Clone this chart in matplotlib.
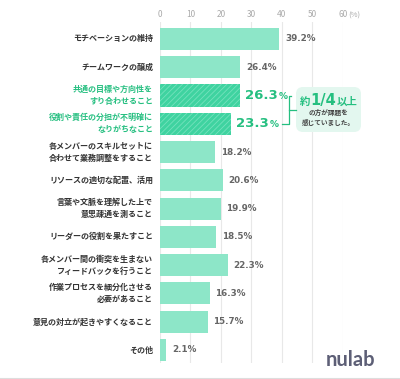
import matplotlib
matplotlib.use("Agg")
import matplotlib.pyplot as plt
from matplotlib.patches import FancyBboxPatch
from matplotlib.lines import Line2D
import matplotlib.transforms as mtransforms

plt.rcParams['font.family'] = ['Noto Sans CJK JP', 'DejaVu Sans']

categories = [
    "モチベーションの維持",
    "チームワークの醸成",
    "共通の目標や方向性を\nすり合わせること",
    "役割や責任の分担が不明確に\nなりがちなこと",
    "各メンバーのスキルセットに\n合わせて業務調整をすること",
    "リソースの適切な配置、活用",
    "言葉や文脈を理解した上で\n意思疎通を測ること",
    "リーダーの役割を果たすこと",
    "各メンバー間の衝突を生まない\nフィードバックを行うこと",
    "作業プロセスを細分化させる\n必要があること",
    "意見の対立が起きやすくなること",
    "その他",
]
values = [39.2, 26.4, 26.3, 23.3, 18.2, 20.6, 19.9, 18.5, 22.3, 16.3, 15.7, 2.1]
highlight = [False, False, True, True, False, False, False, False, False, False, False, False]
xticks = [0, 10, 20, 30, 40, 50, 60]

C_BAR = "#8de6c8"
C_HBAR = "#3fd3a0"
C_HATCH = "#74e2bd"
C_GREEN = "#25bf80"
C_TEXT = "#333333"
C_VAL = "#666666"

plt.rcParams['hatch.linewidth'] = 0.6

W, H = 400, 379
fig = plt.figure(figsize=(W / 100, H / 100), dpi=100)
ax = fig.add_axes([160 / W, (H - 363) / H, (342.7 - 160) / W, (363 - 22) / H])

n = len(categories)
ypos = list(range(n))
for i, (v, h) in enumerate(zip(values, highlight)):
    if h:
        ax.barh(i, v, height=0.78, color=C_HBAR, edgecolor=C_HATCH, linewidth=0, hatch='//////', zorder=2)
    else:
        ax.barh(i, v, height=0.78, color=C_BAR, linewidth=0, zorder=2)

ax.set_xlim(0, 60)
ax.set_ylim(n - 1 + 0.46, -0.6)
ax.set_xticks(xticks)
ax.set_xticklabels([str(t) for t in xticks])
ax.xaxis.tick_top()
ax.tick_params(axis='x', length=0, pad=2, labelsize=6, labelcolor="#aaaaaa")
ax.grid(axis='x', color="#e8e8e8", linewidth=0.8, zorder=0)
ax.set_axisbelow(True)
for s in ax.spines.values():
    s.set_visible(False)
ax.set_yticks(ypos)
ax.set_yticklabels([])
ax.tick_params(axis='y', length=0)

# (%) unit
ax.annotate("(%)", xy=(60, 1), xycoords=('data', 'axes fraction'), xytext=(4, 2),
            textcoords='offset points', ha='left', va='bottom', fontsize=5.5, color="#aaaaaa",
            annotation_clip=False)

# category labels
for i, (lab, h) in enumerate(zip(categories, highlight)):
    ax.annotate(lab, xy=(0, i), xytext=(-5, 0), textcoords='offset points',
                ha='right', va='center', fontsize=5.8, fontweight='bold',
                color=C_GREEN if h else C_TEXT, linespacing=1.4, annotation_clip=False)

fig.canvas.draw()
renderer = fig.canvas.get_renderer()

label_ends = {}
for i, (v, h) in enumerate(zip(values, highlight)):
    if h:
        t1 = ax.annotate(f"{v:.1f}", xy=(v, i), xytext=(3.5, 0), textcoords='offset points',
                         ha='left', va='center', fontsize=9.5, fontweight='bold', color=C_GREEN,
                         family=['DejaVu Sans'])
        fig.canvas.draw()
        bb = t1.get_window_extent(renderer)
        t2 = ax.text(bb.x1 + 1, bb.y0 + 1.5, "%", transform=mtransforms.IdentityTransform(),
                     ha='left', va='bottom', fontsize=6.5, fontweight='bold', color=C_GREEN,
                     family=['DejaVu Sans'])
        fig.canvas.draw()
        bb2 = t2.get_window_extent(renderer)
        label_ends[i] = bb2.x1
    else:
        ax.annotate(f"{v:.1f}%", xy=(v, i), xytext=(4, 0), textcoords='offset points',
                    ha='left', va='center', fontsize=6.3, fontweight='bold', color=C_VAL,
                    family=['DejaVu Sans'])

# bracket (in display pixels; y from top)
def px(x, y_top):
    return x, H - y_top

idt = mtransforms.IdentityTransform()
yrow2 = ax.transData.transform((0, 2))[1]
yrow3 = ax.transData.transform((0, 3))[1]
xb = 289
bracket_kw = dict(color=C_GREEN, linewidth=0.9, transform=idt)
fig.add_artist(Line2D([label_ends[2] + 3, xb, xb, label_ends[3] + 3], [yrow2, yrow2, yrow3, yrow3], **bracket_kw))
ymid = (yrow2 + yrow3) / 2
fig.add_artist(Line2D([xb, 296], [ymid, ymid], **bracket_kw))

# callout box
bx0, bx1 = 296, 361
by_top, by_bot = 87, 132
box = FancyBboxPatch((bx0 / 100 + 0.05, (H - by_bot) / 100 + 0.05),
                     (bx1 - bx0) / 100 - 0.1, (by_bot - by_top) / 100 - 0.1,
                     boxstyle="round,pad=0.05,rounding_size=0.07",
                     transform=fig.dpi_scale_trans, facecolor="#e3f7ef", edgecolor='none')
fig.add_artist(box)

cx = (bx0 + bx1) / 2
yb = H - 105
ta = fig.text(0, yb, "約", transform=idt, ha='left', va='baseline', fontsize=7.5, fontweight='bold', color=C_GREEN)
tb = fig.text(0, yb, "1/4", transform=idt, ha='left', va='baseline', fontsize=10.5, fontweight='bold', color=C_GREEN, family=['DejaVu Sans'])
tc = fig.text(0, yb, "以上", transform=idt, ha='left', va='baseline', fontsize=7.5, fontweight='bold', color=C_GREEN)
fig.canvas.draw()
wa = ta.get_window_extent(renderer).width
wb = tb.get_window_extent(renderer).width
wc = tc.get_window_extent(renderer).width
total = wa + wb + wc + 1
x0 = cx - total / 2
ta.set_x(x0)
tb.set_x(x0 + wa + 0.5)
tc.set_x(x0 + wa + wb + 1)

fig.text(cx, H - 117.5, "の方が課題を\n感じていました。", transform=idt, ha='center', va='center',
         fontsize=4.8, fontweight='bold', color="#444444", linespacing=1.5)

# logo
fig.text(351, H - 360, "nulab", transform=idt, ha='center', va='center', fontsize=14.5,
         color="#5d5f76", family=['Lato', 'DejaVu Sans'], fontweight='bold')

# bottom rule
fig.add_artist(Line2D([0, W], [H - 377.5, H - 377.5], color="#dddddd", linewidth=0.8, transform=idt))

fig.savefig("out.png", dpi=100, facecolor='white')
